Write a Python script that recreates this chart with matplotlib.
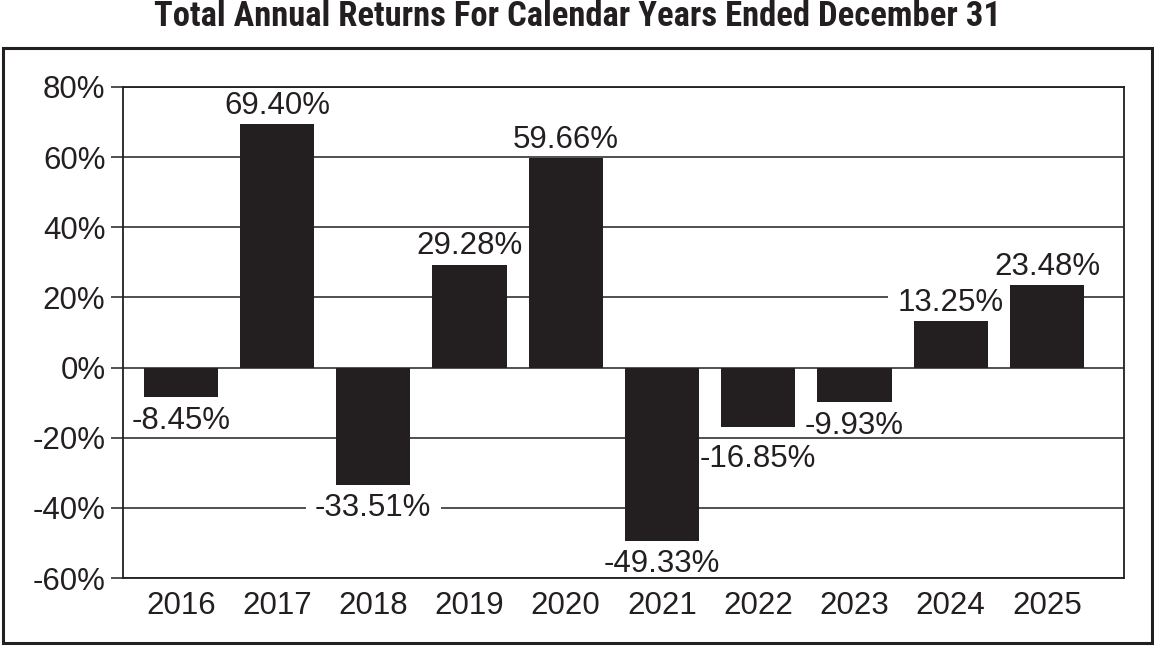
import matplotlib
matplotlib.use("Agg")
import matplotlib.pyplot as plt
from matplotlib.patches import Rectangle
from matplotlib.path import Path
from matplotlib import font_manager as fm

years = ["2016", "2017", "2018", "2019", "2020", "2021", "2022", "2023", "2024", "2025"]
returns = [-8.45, 69.40, -33.51, 29.28, 59.66, -49.33, -16.85, -9.93, 13.25, 23.48]
yticks = [-60, -40, -20, 0, 20, 40, 60, 80]
title = "Total Annual Returns For Calendar Years Ended December 31"

INK = "#231f20"
W, H = 1154, 646
plt.rcParams['font.family'] = ['Liberation Sans', 'DejaVu Sans']
fig = plt.figure(figsize=(W / 100, H / 100), dpi=100)

# axes placement in pixels
left, right, top, bottom = 123, 1124, 87, 578
ax = fig.add_axes([left / W, 1 - bottom / H, (right - left) / W, (bottom - top) / H])

FS = 22.5
x = list(range(len(years)))
ax.bar(x, returns, width=0.77, color=INK, zorder=3)
ax.set_xlim(-0.60, 9.80)
ax.set_ylim(-60, 80)
ax.set_yticks(yticks)
ax.set_yticklabels([f"{v}%" for v in yticks])
ax.set_xticks(x)
ax.set_xticklabels(years)
ax.tick_params(axis='y', length=8.6, width=1.1, color=INK, labelsize=FS, labelcolor=INK, pad=4, direction='out')
ax.tick_params(axis='x', length=0, labelsize=FS, labelcolor=INK, pad=9)
for v in yticks:
    ax.axhline(v, color=INK, lw=1.1, zorder=1)
for s in ax.spines.values():
    s.set_color(INK)
    s.set_linewidth(1.3)
    s.set_zorder(5)


def hbox(x0, y0, width, height, mutation_size):
    px = 0.3 * mutation_size
    yb = y0 + 0.22 * mutation_size
    yt = y0 + height - 0.12 * mutation_size
    return Path([(x0 - px, yb), (x0 + width + px, yb), (x0 + width + px, yt),
                 (x0 - px, yt), (x0 - px, yb)], closed=True)


for i, v in enumerate(returns):
    if v >= 0:
        off, va = 2.5, 'bottom'
    else:
        off, va = (-12.5 if years[i] == "2022" else -6), 'top'
    ax.annotate(f"{v:.2f}%", (i, v), xytext=(0, off), textcoords='offset points',
                ha='center', va=va, fontsize=FS, color=INK, zorder=2,
                bbox=dict(boxstyle=hbox, fc='white', ec='none'))

# title font: prefer a condensed bold face
cands = []
for f in fm.fontManager.ttflist:
    nm = f.name.lower()
    cond = ('narrow' in nm or 'condensed' in nm or str(f.stretch).endswith('condensed'))
    w = f.weight if isinstance(f.weight, int) else {'bold': 700, 'normal': 400}.get(str(f.weight), 400)
    if cond and w >= 600 and f.style == 'normal':
        rank = 0 if 'liberation' in nm else 1 if 'roboto' in nm else 2 if 'dejavu' in nm else 3
        cands.append((rank, f.fname))
cands.sort()
if cands:
    tprop = fm.FontProperties(fname=cands[0][1])
else:
    tprop = fm.FontProperties(family='Liberation Sans', weight='bold')

tprop.set_size(24)
ttl = fig.text(577 / W, 1 - 17 / H, title, ha='center', va='center',
               color=INK, fontproperties=tprop)
fig.canvas.draw()
tw = ttl.get_window_extent().width
tprop.set_size(24 * 847 / tw)
ttl.set_fontproperties(tprop)

fig.patches.append(Rectangle((3 / W, 1 - 643 / H), (1152 - 3) / W, (643 - 48) / H,
                             transform=fig.transFigure, fill=False, ec=INK, lw=2.2))

fig.savefig("out.png", dpi=100)
